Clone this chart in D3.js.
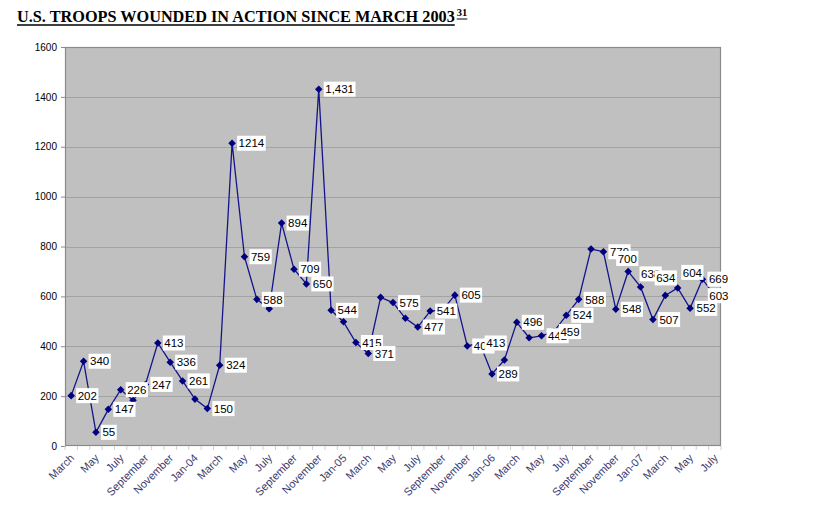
<!DOCTYPE html>
<html><head><meta charset="utf-8">
<script src="https://cdn.jsdelivr.net/npm/d3@7"></script>
<style>
html,body{margin:0;padding:0;background:#fff;}
svg{display:block;}
</style></head>
<body>
<svg id="chart" width="825" height="509"></svg>
<script>
// ---- data ----
const categories = [
 "March","April","May","June","July","August","September","October","November","December",
 "Jan-04","February","March","April","May","June","July","August","September","October","November","December",
 "Jan-05","February","March","April","May","June","July","August","September","October","November","December",
 "Jan-06","February","March","April","May","June","July","August","September","October","November","December",
 "Jan-07","February","March","April","May","June","July"
];
const wounded = [202,340,55,147,226,183,247,413,336,261,
 188,150,324,1214,759,588,550,894,709,650,1431,544,
 498,415,371,596,575,512,477,541,545,605,401,413,
 289,345,496,434,442,459,524,588,790,779,548,700,
 638,507,604,634,552,669,603];
const labelText = ["202","340","55","147","226",null,"247","413","336","261",
 null,"150","324","1214","759","588",null,"894","709","650","1,431","544",
 null,"415","371",null,"575",null,"477","541",null,"605","401","413",
 "289",null,"496",null,"442","459","524","588",null,"779","548","700",
 "638","507","604","634","552","669","603"];
const yTicks = [0,200,400,600,800,1000,1200,1400,1600];
const titleText = "U.S. TROOPS WOUNDED IN ACTION SINCE MARCH 2003";
const footnote = "31";

// ---- layout ----
const svg = d3.select("#chart");
const L = 65, R = 721, T = 47, B = 446;
const x = d3.scaleBand().domain(d3.range(categories.length)).range([L, R]);
const y = d3.scaleLinear().domain([0, 1600]).range([B, T]);
const cx = i => x(i) + x.bandwidth() / 2;

// title
const title = svg.append("text")
  .attr("x", 17).attr("y", 22)
  .attr("font-family", "'Liberation Serif','Times New Roman',serif")
  .attr("font-weight", "bold").attr("font-size", 16)
  .attr("fill", "#000")
  .text(titleText);
let tw = title.node().getComputedTextLength();
const fs = 16 * 438 / tw;
title.attr("font-size", fs);
tw = title.node().getComputedTextLength();
svg.append("line").attr("x1", 17).attr("x2", 17 + tw).attr("y1", 25).attr("y2", 25)
  .attr("stroke", "#000").attr("stroke-width", 1.3);
const sup = svg.append("text")
  .attr("x", 17 + tw + 2).attr("y", 16)
  .attr("font-family", "'Liberation Serif','Times New Roman',serif")
  .attr("font-weight", "bold").attr("font-size", 10.5)
  .attr("fill", "#000").text(footnote);
const sw = sup.node().getComputedTextLength();
svg.append("line").attr("x1", 17 + tw + 2).attr("x2", 17 + tw + 2 + sw).attr("y1", 19).attr("y2", 19)
  .attr("stroke", "#000").attr("stroke-width", 1);

// plot background
svg.append("rect").attr("x", L).attr("y", T).attr("width", R - L).attr("height", B - T)
  .attr("fill", "#c0c0c0");

// gridlines
svg.append("g").selectAll("line").data(yTicks.filter(d => d > 0)).join("line")
  .attr("x1", L).attr("x2", R)
  .attr("y1", d => Math.round(y(d)) + 0.5).attr("y2", d => Math.round(y(d)) + 0.5)
  .attr("stroke", "#a3a3a3").attr("stroke-width", 1);

// frame
svg.append("rect").attr("x", L + 0.5).attr("y", T + 0.5).attr("width", R - L - 1).attr("height", B - T - 1)
  .attr("fill", "none").attr("stroke", "#8a8a8a").attr("stroke-width", 1.2);

// y axis
const yAxis = d3.axisLeft(y).tickValues(yTicks).tickSize(4).tickFormat(d3.format("d"));
const gy = svg.append("g").attr("transform", `translate(${L},0)`).call(yAxis);
gy.select(".domain").attr("stroke", "#8a8a8a");
gy.selectAll(".tick line").attr("stroke", "#8a8a8a");
gy.selectAll(".tick text").attr("font-family", "'Liberation Sans',Arial,sans-serif")
  .attr("font-size", 10).attr("fill", "#000").attr("x", -8);

// x axis ticks at category boundaries
const gx = svg.append("g");
gx.selectAll("line").data(d3.range(categories.length + 1)).join("line")
  .attr("x1", i => (i < categories.length ? x(i) : R)).attr("x2", i => (i < categories.length ? x(i) : R))
  .attr("y1", B).attr("y2", B + 4)
  .attr("stroke", "#d0d0d0");
gx.selectAll("text").data(d3.range(0, categories.length, 2)).join("text")
  .attr("transform", i => `translate(${cx(i) + 1},${B + 10}) rotate(-45)`)
  .attr("text-anchor", "end").attr("dy", "0.35em")
  .attr("font-family", "'Liberation Sans',Arial,sans-serif")
  .attr("font-size", 11).attr("fill", "#3a3a6e")
  .text(i => categories[i]);

// line
const line = d3.line().x((d, i) => cx(i)).y(d => y(d));
svg.append("path").datum(wounded).attr("d", line)
  .attr("fill", "none").attr("stroke", "#14148a").attr("stroke-width", 1.3);

// markers
const diamond = d3.symbol().type(d3.symbolDiamond2).size(36);
svg.append("g").selectAll("path").data(wounded).join("path")
  .attr("transform", (d, i) => `translate(${cx(i)},${y(d)})`)
  .attr("d", diamond).attr("fill", "#000080");

// data labels (default: right of point; a few were moved by hand in the original)
const labelShift = {45: [-17, -13], 46: [-6, -13], 48: [11, -23], 49: [-28, -10], 52: [-12, 0]};
const lg = svg.append("g").attr("font-family", "'Liberation Sans',Arial,sans-serif").attr("font-size", 11.5);
wounded.forEach((v, i) => {
  const t = labelText[i];
  if (t == null) return;
  const s = labelShift[i] || [0, 0];
  const px = cx(i) + 5 + s[0], py = y(v) + s[1];
  const g = lg.append("g");
  const rect = g.append("rect").attr("fill", "#fff");
  const txt = g.append("text").attr("x", px + 1.5).attr("y", py).attr("dy", "0.36em").attr("fill", "#000").text(t);
  const w = txt.node().getComputedTextLength();
  rect.attr("x", px).attr("y", py - 7.5).attr("width", w + 3).attr("height", 15);
});
</script>
</body></html>
